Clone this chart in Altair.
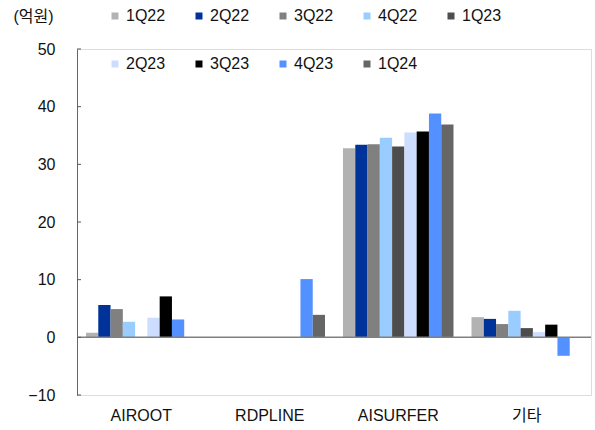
import altair as alt
import pandas as pd

categories = ["AIROOT", "RDPLINE", "AISURFER", "기타"]
quarters = ["1Q22", "2Q22", "3Q22", "4Q22", "1Q23", "2Q23", "3Q23", "4Q23", "1Q24"]

v_1Q22 = [0.8, None, 32.8, 3.5]
v_2Q22 = [5.6, None, 33.4, 3.2]
v_3Q22 = [4.9, None, 33.5, 2.3]
v_4Q22 = [2.7, None, 34.6, 4.6]
v_1Q23 = [None, None, 33.1, 1.6]
v_2Q23 = [3.4, None, 35.5, 0.9]
v_3Q23 = [7.1, None, 35.7, 2.2]
v_4Q23 = [3.1, 10.1, 38.8, -3.2]
v_1Q24 = [None, 3.9, 36.9, None]

series = [v_1Q22, v_2Q22, v_3Q22, v_4Q22, v_1Q23, v_2Q23, v_3Q23, v_4Q23, v_1Q24]
colors = ["#B2B2B2", "#003399", "#808080", "#99CCFF", "#4D4D4D",
          "#CCDDFF", "#000000", "#5291FF", "#666666"]
y_ticks = [-10, 0, 10, 20, 30, 40, 50]

rows = []
for q, vals in zip(quarters, series):
    for c, v in zip(categories, vals):
        if v is not None:
            rows.append({"cat": c, "q": q, "v": v})
df = pd.DataFrame(rows)

FONT = "'Liberation Sans', 'Noto Sans CJK KR', sans-serif"
FS = 16

bars = alt.Chart(df).mark_bar().encode(
    x=alt.X("cat:N", sort=categories,
            scale=alt.Scale(domain=categories, paddingInner=0.14, paddingOuter=0.07),
            axis=alt.Axis(title=None, domain=False, ticks=False, labelAngle=0,
                          labelPadding=12, labelFontSize=FS, labelColor="#111")),
    xOffset=alt.XOffset("q:N", scale=alt.Scale(domain=quarters, paddingInner=0, paddingOuter=0)),
    y=alt.Y("v:Q", scale=alt.Scale(domain=[-10, 50], nice=False),
            axis=alt.Axis(values=y_ticks, title="(억원)", titleAngle=0, titleAlign="left",
                          titleBaseline="middle", titleX=-64, titleY=-33,
                          titleFontSize=FS, titleFontWeight="normal", titleColor="#111",
                          grid=False, ticks=False, labelPadding=22, labelFontSize=FS,
                          labelColor="#111", domainColor="#666")),
    color=alt.Color("q:N", scale=alt.Scale(domain=quarters, range=colors),
                    legend=alt.Legend(title=None, orient="none", legendX=30, legendY=-41,
                                      columns=5, direction="horizontal", symbolType="square",
                                      symbolSize=49, symbolStrokeWidth=0, labelFontSize=FS,
                                      labelColor="#111", labelOffset=3, columnPadding=25,
                                      rowPadding=32)),
)

zero = alt.Chart(pd.DataFrame({"y": [0]})).mark_rule(color="#808080", strokeWidth=1.5).encode(
    y="y:Q")

ticks = alt.Chart(pd.DataFrame({"t": y_ticks})).mark_rule(color="#555").encode(
    y="t:Q", x=alt.value(0), x2=alt.value(4))

chart = alt.layer(bars, zero, ticks).properties(
    width=514, height=346,
    padding={"left": 77, "top": 49, "right": 4, "bottom": 35},
    autosize=alt.AutoSizeParams(type="none"),
).configure_view(stroke=None).configure(font=FONT)

chart.save("out.html", embed_options={"renderer": "svg", "actions": False})
